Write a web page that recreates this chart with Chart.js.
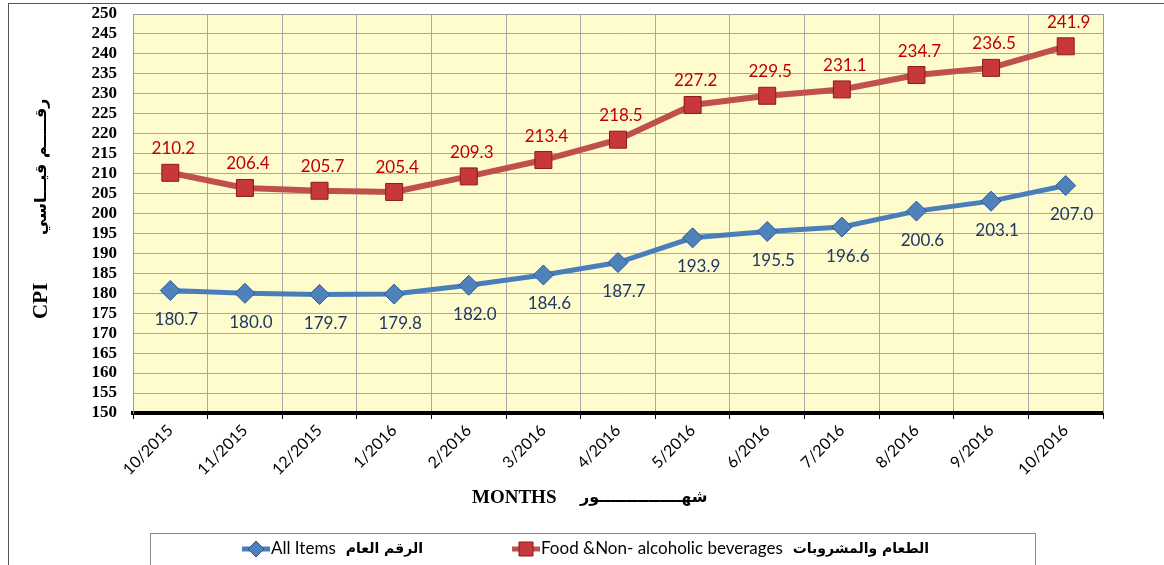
<!DOCTYPE html>
<html><head><meta charset="utf-8">
<script src="https://cdn.jsdelivr.net/npm/chart.js@4.4.1/dist/chart.umd.min.js"></script>
<style>html,body{margin:0;padding:0;background:#fff;}#wrap{width:1164px;height:565px;position:relative;}</style>
</head><body><div id="wrap"><canvas id="c" width="1164" height="565"></canvas></div>
<script>
const categories = ['10/2015','11/2015','12/2015','1/2016','2/2016','3/2016','4/2016','5/2016','6/2016','7/2016','8/2016','9/2016','10/2016'];
const allItems = [180.7,180.0,179.7,179.8,182.0,184.6,187.7,193.9,195.5,196.6,200.6,203.1,207.0];
const foodBev = [210.2,206.4,205.7,205.4,209.3,213.4,218.5,227.2,229.5,231.1,234.7,236.5,241.9];
const yMin = 150, yMax = 250, yStep = 5;
const seriesNames = ['All Items', 'Food &Non- alcoholic beverages'];
const seriesNamesAr = ['الرقم العام', 'الطعام والمشروبات'];
const yTitle = ['CPI', 'رقـــــم قيـــاسي'];
const xTitle = ['MONTHS', 'شهـــــــــــــــور'];

const decor = {
  id: 'decor',
  beforeDraw(chart) {
    const {ctx, chartArea: a} = chart;
    ctx.save();
    ctx.fillStyle = '#FEFCCD';
    ctx.fillRect(a.left, a.top, a.right - a.left, a.bottom - a.top);
    ctx.restore();
  },
  afterDatasetsDraw(chart) {
    const {ctx, chartArea: a} = chart;
    ctx.save();
    ctx.strokeStyle = '#9A9A9A'; ctx.lineWidth = 1;
    ctx.beginPath();
    ctx.moveTo(a.left, a.top + 0.5); ctx.lineTo(a.right + 0.5, a.top + 0.5); ctx.lineTo(a.right + 0.5, a.bottom);
    ctx.stroke();
    ctx.font = '17px Lato, "Open Sans", sans-serif';
    ctx.textAlign = 'center'; ctx.textBaseline = 'middle';
    const m0 = chart.getDatasetMeta(0), m1 = chart.getDatasetMeta(1);
    m1.data.forEach((p, i) => { ctx.fillStyle = '#C00000'; ctx.fillText(foodBev[i].toFixed(1), p.x + 3, p.y - 24); });
    m0.data.forEach((p, i) => { ctx.fillStyle = '#1F3864'; ctx.fillText(allItems[i].toFixed(1), p.x + 6, p.y + 29); });
    ctx.strokeStyle = '#555'; ctx.lineWidth = 1;
    ctx.strokeRect(8.5, 3.5, 1170, 600);
    ctx.save();
    ctx.translate(42, 262);
    ctx.rotate(-Math.PI / 2);
    ctx.fillStyle = '#000'; ctx.textBaseline = 'middle'; ctx.textAlign = 'left';
    ctx.font = 'bold 21px "Liberation Serif", serif';
    ctx.fillText(yTitle[0], -57, 0);
    ctx.font = 'bold 16px "DejaVu Sans", sans-serif';
    ctx.fillText(yTitle[1], 27, 0);
    ctx.restore();
    ctx.fillStyle = '#000'; ctx.textBaseline = 'middle'; ctx.textAlign = 'left';
    ctx.font = 'bold 19px "Liberation Serif", serif';
    ctx.fillText(xTitle[0], 472, 498);
    ctx.font = 'bold 16px "DejaVu Sans", sans-serif';
    ctx.fillText(xTitle[1], 580, 498);
    ctx.strokeStyle = '#8A8A8A'; ctx.lineWidth = 1;
    ctx.strokeRect(150.5, 533.5, 885, 40);
    const items = [
      {x: 242, color: '#4A7EBB', style: 'rectRot', fill: '#4F81BD', border: '#2C5A94'},
      {x: 512, color: '#C0504D', style: 'rect', fill: '#C8373A', border: '#8B1A1A'}
    ];
    items.forEach((it, k) => {
      const y = 549;
      ctx.strokeStyle = it.color; ctx.lineWidth = 5;
      ctx.beginPath(); ctx.moveTo(it.x, y); ctx.lineTo(it.x + 28, y); ctx.stroke();
      ctx.fillStyle = it.fill; ctx.strokeStyle = it.border; ctx.lineWidth = 1;
      ctx.beginPath();
      if (it.style === 'rect') { ctx.rect(it.x + 7, y - 7, 14, 14); }
      else { ctx.moveTo(it.x + 14, y - 8); ctx.lineTo(it.x + 22, y); ctx.lineTo(it.x + 14, y + 8); ctx.lineTo(it.x + 6, y); ctx.closePath(); }
      ctx.fill(); ctx.stroke();
      ctx.fillStyle = '#000'; ctx.textAlign = 'left'; ctx.textBaseline = 'middle';
      ctx.font = '17px Lato, "Open Sans", sans-serif';
      const tx = it.x + 29;
      ctx.fillText(seriesNames[k], tx, y);
      const w = ctx.measureText(seriesNames[k]).width;
      ctx.font = 'bold 14px "DejaVu Sans", sans-serif';
      ctx.fillText(seriesNamesAr[k], tx + w + 10, y);
    });
    ctx.restore();
  }
};

new Chart(document.getElementById('c'), {
  type: 'line',
  data: {
    labels: categories,
    datasets: [
      {label: seriesNames[0], data: allItems, borderColor: '#4A7EBB', borderWidth: 5, tension: 0,
       pointStyle: 'rectRot', pointRadius: 10, pointBackgroundColor: '#4F81BD', pointBorderColor: '#2C5A94', pointBorderWidth: 1},
      {label: seriesNames[1], data: foodBev, borderColor: '#C0504D', borderWidth: 6, tension: 0,
       pointStyle: 'rect', pointRadius: 12, pointBackgroundColor: '#C8373A', pointBorderColor: '#8B1A1A', pointBorderWidth: 1}
    ]
  },
  options: {
    responsive: false, animation: false,
    layout: {padding: {top: 14, right: 61, left: 0, bottom: 0}},
    plugins: {legend: {display: false}, tooltip: {enabled: false}},
    scales: {
      x: {
        offset: true,
        grid: {offset: true, color: '#A8A8A8', lineWidth: 1, tickLength: 6, tickColor: '#000', drawTicks: true},
        border: {color: '#000', width: 4},
        ticks: {color: '#000', font: {family: 'Lato, "Open Sans", sans-serif', size: 16}, maxRotation: 45, minRotation: 45, autoSkip: false, padding: 2},
        afterFit(s) { s.height = 152; s.paddingLeft = 0; s.paddingRight = 0; }
      },
      y: {
        min: yMin, max: yMax,
        grid: {color: '#A8A8A8', lineWidth: 1, drawTicks: false},
        border: {color: '#9A9A9A', width: 1},
        ticks: {stepSize: yStep, autoSkip: false, color: '#000', font: {family: '"Liberation Serif", serif', size: 17, weight: 'bold'}, padding: 16},
        afterFit(s) { s.width = 133; s.paddingTop = 0; s.paddingBottom = 0; }
      }
    }
  },
  plugins: [decor]
});
</script></body></html>
